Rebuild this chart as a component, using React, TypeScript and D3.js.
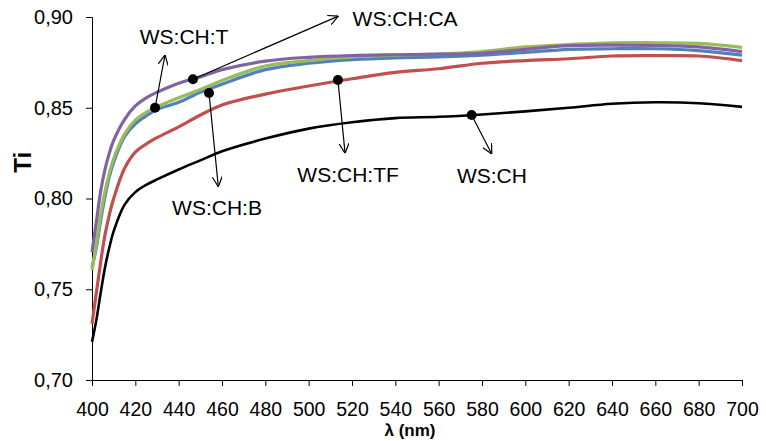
import React, { useRef, useEffect } from "react";
import * as d3 from "d3";

// wavelengths (nm) where the curves were read
const wavelengths = [400, 402, 404, 406, 408, 410, 415, 420, 425, 430, 440, 450, 460, 480, 500, 520, 540, 560, 580, 600, 620, 640, 660, 680, 700];

const wsCH = [0.721, 0.733, 0.748, 0.762, 0.773, 0.782, 0.7965, 0.8035, 0.8075, 0.8105, 0.816, 0.821, 0.826, 0.833, 0.8385, 0.842, 0.8443, 0.845, 0.8463, 0.848, 0.85, 0.8522, 0.853, 0.8525, 0.8505];
const wsCHTF = [0.731, 0.748, 0.765, 0.78, 0.791, 0.8, 0.8165, 0.8255, 0.83, 0.8335, 0.8395, 0.846, 0.8515, 0.8575, 0.862, 0.866, 0.8695, 0.8715, 0.8745, 0.876, 0.877, 0.8785, 0.8787, 0.8785, 0.876];
const wsCHB = [0.762, 0.773, 0.788, 0.801, 0.812, 0.82, 0.834, 0.8412, 0.8455, 0.849, 0.853, 0.8585, 0.863, 0.871, 0.8745, 0.8765, 0.8775, 0.878, 0.879, 0.8805, 0.8822, 0.8825, 0.8825, 0.8815, 0.879];
const wsCHT = [0.7606, 0.775, 0.791, 0.804, 0.814, 0.822, 0.8355, 0.8432, 0.8475, 0.8505, 0.8555, 0.86, 0.865, 0.873, 0.876, 0.878, 0.879, 0.8795, 0.881, 0.8835, 0.8848, 0.8858, 0.8858, 0.8855, 0.8833];
const wsCHCA = [0.7705, 0.787, 0.804, 0.816, 0.825, 0.832, 0.8435, 0.851, 0.8555, 0.8585, 0.8635, 0.867, 0.871, 0.8757, 0.8778, 0.8788, 0.8792, 0.8795, 0.88, 0.8822, 0.8842, 0.8845, 0.8843, 0.8835, 0.8809];

const xTicks = d3.range(400, 701, 20);
const yTicks = [0.7, 0.75, 0.8, 0.85, 0.9];

// callouts: point on the curve, arrow tip and label position, all in data units
const callouts = [
  { label: "WS:CH:T", px: 429.1, py: 0.85, tx: 433.7, ty: 0.8791, lx: 442.5, ly: 0.8851 },
  { label: "WS:CH:CA", px: 446.6, py: 0.8657, tx: 513.7, ty: 0.9005, lx: 544.5, ly: 0.895 },
  { label: "WS:CH:B", px: 454, py: 0.8581, tx: 458.3, ty: 0.8065, lx: 457.7, ly: 0.7909 },
  { label: "WS:CH:TF", px: 513.5, py: 0.8653, tx: 516.8, ty: 0.8249, lx: 518.2, ly: 0.8091 },
  { label: "WS:CH", px: 575.2, py: 0.846, tx: 584.5, ty: 0.8245, lx: 584.6, ly: 0.8085 },
];

const series = [
  { name: "WS:CH", values: wsCH, color: "#000000", width: 2.6 },
  { name: "WS:CH:TF", values: wsCHTF, color: "#C0504D", width: 3.2 },
  { name: "WS:CH:B", values: wsCHB, color: "#4F81BD", width: 3.2 },
  { name: "WS:CH:T", values: wsCHT, color: "#9BBB59", width: 3.2 },
  { name: "WS:CH:CA", values: wsCHCA, color: "#8064A2", width: 3.2 },
];

const FONT = "'Liberation Sans', Arial, sans-serif";

function App() {
  const canvas = useRef<SVGSVGElement | null>(null);

  useEffect(() => {
    const W = 766;
    const H = 441;
    const margin = { top: 17, right: 24, bottom: 61, left: 92 };
    const width = W - margin.left - margin.right;
    const height = H - margin.top - margin.bottom;

    const root = d3.select(canvas.current);
    root.selectAll("*").remove();
    const svg = root.append("g").attr("transform", `translate(${margin.left},${margin.top})`);

    const x = d3.scaleLinear().domain([400, 700]).range([0, width]);
    const y = d3.scaleLinear().domain([0.7, 0.9]).range([height, 0]);

    // x axis
    const gx = svg
      .append("g")
      .attr("transform", `translate(0,${height})`)
      .call(d3.axisBottom(x).tickValues(xTicks).tickSize(6).tickPadding(16).tickFormat(d3.format("d")));
    gx.select(".domain").attr("stroke", "#000");
    gx.selectAll("line").attr("stroke", "#000");
    gx.selectAll("text").attr("font-family", FONT).attr("font-size", 19.5).attr("fill", "#000");

    // y axis
    const gy = svg
      .append("g")
      .call(
        d3
          .axisLeft(y)
          .tickValues(yTicks)
          .tickSize(6)
          .tickPadding(13)
          .tickFormat((d) => d3.format(".2f")(d as number).replace(".", ","))
      );
    gy.select(".domain").attr("stroke", "#000");
    gy.selectAll("line").attr("stroke", "#000");
    gy.selectAll("text").attr("font-family", FONT).attr("font-size", 20).attr("fill", "#000");

    // curves
    const line = d3
      .line<number>()
      .x((_, i) => x(wavelengths[i]))
      .y((d) => y(d))
      .curve(d3.curveCatmullRom.alpha(0.5));

    svg
      .selectAll("path.curve")
      .data(series)
      .enter()
      .append("path")
      .attr("class", "curve")
      .attr("fill", "none")
      .attr("stroke", (d) => d.color)
      .attr("stroke-width", (d) => d.width)
      .attr("stroke-linejoin", "round")
      .attr("d", (d) => line(d.values));

    // arrow heads
    const defs = root.append("defs");
    defs
      .append("marker")
      .attr("id", "arrowOpen")
      .attr("viewBox", "0 0 10 10")
      .attr("refX", 10)
      .attr("refY", 5)
      .attr("markerWidth", 10)
      .attr("markerHeight", 10)
      .attr("markerUnits", "userSpaceOnUse")
      .attr("orient", "auto")
      .append("path")
      .attr("d", "M0,0 L10,5 L0,10")
      .attr("fill", "none")
      .attr("stroke", "#000")
      .attr("stroke-width", 1.2);

    const ann = svg.append("g");
    ann
      .selectAll("line.arrow")
      .data(callouts)
      .enter()
      .append("line")
      .attr("x1", (d) => x(d.px))
      .attr("y1", (d) => y(d.py))
      .attr("x2", (d) => x(d.tx))
      .attr("y2", (d) => y(d.ty))
      .attr("stroke", "#000")
      .attr("stroke-width", 1.2)
      .attr("marker-end", "url(#arrowOpen)");

    ann
      .selectAll("circle")
      .data(callouts)
      .enter()
      .append("circle")
      .attr("cx", (d) => x(d.px))
      .attr("cy", (d) => y(d.py))
      .attr("r", 5)
      .attr("fill", "#000");

    ann
      .selectAll("text")
      .data(callouts)
      .enter()
      .append("text")
      .attr("x", (d) => x(d.lx))
      .attr("y", (d) => y(d.ly))
      .attr("text-anchor", "middle")
      .attr("font-family", FONT)
      .attr("font-size", 21)
      .attr("fill", "#000")
      .text((d) => d.label);

    // axis titles
    svg
      .append("text")
      .attr("x", width / 2 - 7)
      .attr("y", height + 56)
      .attr("text-anchor", "middle")
      .attr("font-family", FONT)
      .attr("font-weight", "bold")
      .attr("font-size", 17)
      .text("λ (nm)");

    svg
      .append("text")
      .attr("transform", `translate(${-margin.left + 31},${y(0.82)}) rotate(-90)`)
      .attr("text-anchor", "middle")
      .attr("font-family", FONT)
      .attr("font-weight", "bold")
      .attr("font-size", 24)
      .text("Ti");
  }, []);

  return (
    <svg
      ref={canvas}
      width={766}
      height={441}
      style={{ position: "absolute", left: 0, top: 0, background: "#fff" }}
    />
  );
}

export default App;
